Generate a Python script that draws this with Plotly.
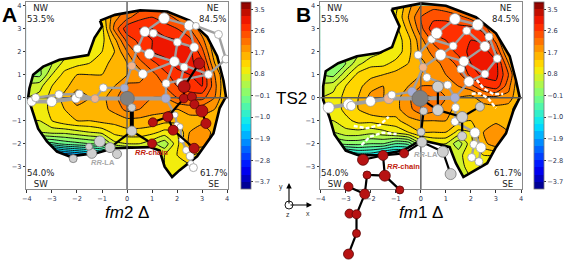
import plotly.graph_objects as go

W, H = 567, 261
GRID_X = [-4, -3.5, -3, -2.5, -2, -1.5, -1, -0.5, 0, 0.5, 1, 1.5, 2, 2.5, 3, 3.5, 4]
GRID_Y = [4, 3.5, 3, 2.5, 2, 1.5, 1, 0.5, 0, -0.5, -1, -1.5, -2, -2.5, -3, -3.5]

Z_A = [
 [.8,.8,.8,.8,.8,.8,1.2,1.8,2.0,2.1,2.1,2.0,1.8,1.5,1.2,1.0,1.0],
 [.8,.8,.8,.8,.8,.8,1.2,1.9,2.2,2.5,2.6,2.5,2.2,1.9,1.4,1.0,1.0],
 [.8,.8,.8,.8,.8,.8,1.0,2.1,2.8,2.9,2.9,2.7,2.6,2.3,1.8,1.2,1.0],
 [.8,.8,.8,.8,.8,.8,1.0,1.6,2.4,2.7,2.9,3.0,2.9,2.7,2.1,1.4,1.0],
 [.5,.5,.5,.6,.7,.8,1.1,1.4,2.0,2.5,2.9,3.0,3.1,3.0,2.4,1.5,1.0],
 [.2,.2,.5,.9,1.0,1.1,1.3,1.5,1.7,2.2,2.5,2.8,3.0,3.0,2.7,1.7,1.2],
 [.2,.1,.8,1.2,1.4,1.4,1.4,1.5,1.7,1.8,2.2,2.5,2.8,2.9,2.9,2.0,1.3],
 [.6,.7,1.1,1.3,1.6,1.6,1.5,1.7,2.1,2.1,2.0,2.3,2.6,2.8,2.9,2.1,1.3],
 [.8,.9,1.2,1.5,1.9,1.7,1.6,1.9,2.3,2.2,2.0,2.0,2.3,2.4,2.4,2.0,1.3],
 [.8,.9,1.2,1.4,1.6,1.6,1.6,1.8,2.1,2.0,1.8,1.8,1.7,1.8,1.8,1.7,1.2],
 [.8,.8,1.1,1.3,1.4,1.4,1.5,1.5,1.6,1.6,1.6,1.5,1.5,1.6,1.6,1.5,1.2],
 [.5,.5,.6,.6,.7,.8,.9,1.2,1.3,1.3,1.2,1.0,1.1,1.7,1.9,1.6,1.2],
 [-.5,-.5,-.5,-.3,-.2,-.1,0,.7,.8,.8,.6,.3,1.0,1.8,1.9,1.4,1.0],
 [-2.5,-2.5,-2.5,-2.2,-2.0,-1.8,-1.5,-1.0,-.5,0,.5,.8,1.1,1.4,1.2,1.0,1.0],
 [-2.5,-2.5,-2.5,-2.5,-2.5,-2.5,-2.0,-1.0,0,.5,.7,.8,1.0,1.0,.8,.8,.8],
 [-2.5,-2.5,-2.5,-2.5,-2.5,-2.5,-2.0,-1.0,0,.5,.7,.8,.8,.8,.8,.8,.8],
]
Z_B = [
 [.9,.9,.9,.9,.9,.9,1.0,1.6,2.0,2.2,2.1,1.9,1.6,1.3,1.1,1.0,1.0],
 [.9,.9,.9,.9,.9,.9,1.1,1.7,2.3,2.5,2.5,2.4,2.2,1.8,1.3,1.0,1.0],
 [.9,.9,.9,.9,.9,.9,1.0,1.5,2.2,2.8,2.8,2.7,2.7,2.5,1.9,1.2,1.0],
 [.8,.8,.8,.8,.8,.8,.9,1.3,1.9,2.4,2.6,2.8,2.9,2.8,2.2,1.4,1.0],
 [.3,.3,.3,.4,.6,.8,.9,1.3,1.8,2.1,2.4,2.7,3.0,3.1,2.6,1.6,1.1],
 [-.2,-.2,.2,.7,1.0,1.0,1.2,1.4,1.6,1.9,2.1,2.4,2.9,3.0,3.0,2.0,1.2],
 [.2,.1,.7,1.2,1.3,1.4,1.5,1.5,1.7,1.8,2.0,2.2,2.7,3.0,3.0,2.3,1.3],
 [.6,.7,1.1,1.3,1.6,1.7,1.5,1.7,2.0,2.0,1.9,2.0,2.2,2.6,2.8,2.1,1.3],
 [.8,.9,1.2,1.4,1.8,1.7,1.6,1.9,2.4,2.3,2.0,1.7,1.6,1.9,1.9,1.9,1.3],
 [.9,.9,1.2,1.4,1.6,1.6,1.6,1.9,2.2,2.1,1.8,1.6,1.5,1.5,1.6,1.5,1.2],
 [.8,.8,1.0,1.2,1.2,1.3,1.3,1.6,1.7,1.7,1.7,1.5,1.4,1.5,1.6,1.5,1.2],
 [.5,.5,.7,.7,.6,.7,.9,1.1,1.4,1.4,1.4,1.0,1.1,1.7,2.0,1.7,1.2],
 [-.1,-.1,0,0,-.1,-.1,-.4,-.3,.5,.8,.8,.3,1.0,1.6,1.9,1.4,1.0],
 [-1.5,-1.5,-1.5,-1.2,-1.2,-1.5,-1.6,-1.5,0,.3,.5,.7,1.0,1.1,1.1,1.0,1.0],
 [-1.5,-1.5,-1.5,-1.5,-1.5,-1.5,-1.6,-1.5,0,.3,.5,.7,.9,1.0,.9,.8,.8],
 [-1.5,-1.5,-1.5,-1.5,-1.5,-1.5,-1.6,-1.5,0,.3,.5,.7,.8,.8,.8,.8,.8],
]

BOUND_A = [(-1.08,3.35),(-.48,3.6),(.52,3.8),(1.6,3.75),(2.5,3.35),(3.2,2.65),(3.6,1.8),(3.85,.75),(3.95,.05),
 (3.7,-.45),(3.45,-1.55),(3.05,-2.15),(2.8,-2.55),(2.1,-3.15),(1.8,-3.45),(1.5,-3.0),(1.3,-2.3),(.9,-2.15),
 (0,-2.2),(-.55,-2.2),(-1.2,-2.4),(-2.3,-2.55),(-2.8,-2.35),(-3.2,-1.9),(-3.55,-1.35),(-3.75,-.7),(-3.95,0),
 (-3.9,.4),(-3.75,1.0),(-3.35,1.35),(-2.7,1.65),(-1.55,1.85),(-1.3,2.6),(-1,3.1),(-1.08,3.35)]
BOUND_B = [(-1.17,3.85),(0,4.1),(1,4.0),(2.2,3.5),(3,2.8),(3.55,1.8),(3.8,.75),(3.95,0),(3.7,-.55),(3.4,-1.55),
 (3,-2.15),(2.65,-2.85),(1.7,-3.45),(1.4,-2.85),(1.15,-2.15),(.65,-2),(0,-1.85),(-.7,-2.3),(-1.75,-2.5),
 (-2.5,-2.5),(-3,-2.3),(-3.45,-1.6),(-3.65,-.85),(-3.9,-.1),(-3.9,.5),(-3.8,1.15),(-3.3,1.5),(-2.55,1.8),
 (-1.65,1.95),(-1.15,2.2),(-.85,3.1),(-1.17,3.85)]

# atoms: name -> (x, y); first letter gives the element colour group
A_XY = dict(L1=(-3.81,-.17),L2=(-3.65,0),L3=(-3.01,-.17),L4=(-2.72,.14),L5=(-2.04,-.03),L6=(-1.91,.16),O1=(-1.28,-.04),
 L7=(-.95,.43),B1=(-.11,.42),Z=(.01,-.03),B2=(1.55,-.03),O2=(.19,1.38),W1=(.63,1.03),W2=(.41,2.13),W3=(.89,1.9),
 W4=(.71,2.87),W5=(1.05,2.8),W6=(1.48,3.45),W7=(2.48,3.14),W8=(2.75,3.12),W9=(3.65,2.75),W10=(3.95,1.68),W11=(3.25,1.01),
 W12=(2.68,2.19),W13=(2.01,2.41),W14=(1.89,1.57),W15=(2.28,1.33),W16=(1.56,.62),W17=(2.12,.67),W18=(1.92,-.75),
 W19=(1.99,-1.19),W20=(2.12,-1.26),W21=(2.19,-1.84),W22=(2.36,-2.28),W23=(2.52,-2.54),W24=(2.55,-2.86),W25=(2.65,-3.04),
 G1=(.19,-.43),G2=(.19,-1.45),G3=(-1.09,-1.9),G4=(-.68,-2.17),G5=(-1.41,-2.42),G6=(-1.52,-2.13),G7=(-.4,-2.45),G8=(-2.15,-2.65),
 R1=(2.88,1.49),R2=(2.28,.48),R3=(2.27,-.03),R4=(2.59,.04),R5=(2.69,-.29),R6=(2.99,-.58),R7=(3.15,-1.12),R8=(1.63,-.83),
 R9=(1.03,-1.07),R10=(1.84,-1.41),R11=(2.68,-2.2),R12=(1,-1.99))
A_SIZE = dict(L1=9,L2=8,L3=10,L4=8,L5=9,L6=8,O1=8,L7=8,B1=8,Z=14,B2=9,O2=8,W1=9,W2=8,W3=10,W4=10,W5=8,W6=11,W7=10,W8=7,W9=8,W10=8,
 W11=8,W12=9,W13=8,W14=10,W15=8,W16=8,W17=8,W18=6,W19=6,W20=6,W21=6,W22=7,W23=8,W24=6,W25=8,G1=8,G2=10,G3=11,G4=10,G5=10,G6=7,G7=9,G8=8,
 R1=11,R2=12,R3=9,R4=9,R5=9,R6=12,R7=10,R8=10,R9=9,R10=10,R11=10,R12=9)
A_THICK_GREY = [("L1","L3"),("L3","L5"),("L5","O1"),("O1","Z"),("Z","B2")]
A_GREY = [("L2","L4"),("L4","L6"),("L6","O1"),("O1","L7"),("L7","B1"),("B1","Z"),("B1","O2"),("O2","W2"),("O2","W1"),("W2","W3"),
 ("W2","W4"),("W4","W6"),("W6","W7"),("W7","W8"),("W8","W9"),("W9","W10"),("W10","W11"),("W11","W14"),("W4","W5"),("W5","W13"),
 ("W3","W14"),("W14","W13"),("W13","W7"),("W13","W12"),("W12","W7"),("W12","W15"),("W15","W14"),("W1","W14"),("W16","W14"),
 ("W15","W17"),("B2","W16"),("B2","W18"),("W18","W19"),("W19","W20"),("W20","W21"),("W21","W22"),("W22","W23"),("W23","W24"),("W24","W25"),("W11","W16")]
A_BLACK = [("R1","R2"),("R2","R3"),("R3","R8"),("R4","R5"),("R5","R6"),("R6","R7"),("R8","R9"),("R8","R10"),("R10","R11"),
 ("G2","R12"),("G2","G4"),("G3","G4"),("G4","G7"),("G5","G6"),("R3","R4")]
A_THICK_BLACK = [("G1","G2")]

B_XY = dict(L1=(-3.68,-.43),L2=(-2.88,-.29),L3=(-2.78,-.36),L4=(-2.01,-.16),O1=(-1.28,-.04),L5=(-1.16,.12),B1=(-.35,.26),Z=(-.03,-.03),
 B2=(1.36,0),W1=(1.07,.55),W2=(1.92,.7),W3=(.24,.88),O2=(.09,1.32),W4=(-.11,1.86),W5=(.79,1.86),W6=(1.6,1.25),W7=(1.72,1.58),
 W8=(2.56,1.03),W9=(3.05,1.7),W10=(2.56,2.23),W11=(1.29,2.25),W12=(.43,2.54),W13=(.63,2.8),W14=(1.36,3.42),W15=(1.83,2.91),
 W16=(2.27,3.17),W17=(2.72,2.65),W18=(1.39,-.43),W19=(1.36,-1.04),W20=(2.16,-1.52),W21=(2.12,-2.03),W22=(2.4,-2.17),W23=(2.03,-2.6),W24=(2.32,-2.78),
 G1=(.11,-.58),G2=(.01,-1.49),G3=(.04,-1.93),G4=(.68,.48),G5=(.68,-.54),G6=(2.36,-.39),G7=(1.65,-.84),G8=(1.65,-1.67),G9=(.88,-2.35),G10=(1.19,-3.32),
 R1=(-.67,-2.42),R2=(-1.51,-2.51),R3=(-2.31,-2.7),R4=(-2.15,-3.36),R5=(-1.44,-3.39),R6=(-.84,-4.01),R7=(-2.24,-4.19),R8=(-2.89,-3.87),
 R9=(-2.85,-5.04),R10=(-2.57,-5.07),R11=(-2.57,-5.9),R12=(-2.89,-6.8))
B_SIZE = dict(L1=11,L2=11,L3=9,L4=10,O1=10,L5=8,B1=9,Z=16,B2=9,W1=8,W2=10,W3=8,O2=8,W4=8,W5=11,W6=8,W7=10,W8=8,W9=8,W10=10,W11=8,W12=8,W13=11,
 W14=11,W15=8,W16=11,W17=8,W18=8,W19=8,W20=10,W21=8,W22=10,W23=8,W24=8,G1=8,G2=8,G3=10,G4=11,G5=11,G6=9,G7=11,G8=9,G9=11,G10=11,
 R1=9,R2=10,R3=11,R4=8,R5=11,R6=8,R7=10,R8=9,R9=9,R10=9,R11=8,R12=10)
B_THICK_GREY = [("L1","L2"),("L2","L4"),("L4","O1"),("O1","Z"),("Z","B2")]
B_GREY = [("O1","L5"),("L5","B1"),("B1","Z"),("B1","O2"),("O2","W4"),("O2","W3"),("W3","W1"),("O2","W5"),("W4","W12"),("W12","W13"),
 ("W13","W14"),("W14","W16"),("W16","W17"),("W17","W9"),("W9","W8"),("W8","W7"),("W7","W5"),("W7","W10"),("W10","W17"),("W10","W15"),
 ("W15","W16"),("W15","W11"),("W11","W12"),("W11","W5"),("W6","W7"),("W6","W2"),("W2","W8"),("W1","B2"),("B2","W2"),("B2","W18"),
 ("W18","W19"),("W19","W20"),("W20","W21"),("W21","W23"),("W23","W24"),("W24","W22"),("W22","W20")]
B_BLACK = [("G4","G5"),("Z","G5"),("G5","G7"),("G7","G6"),("G7","G8"),("G1","G2"),("G3","R1"),("G9","G10"),("G3","G9"),
 ("R1","R2"),("R2","R3"),("R2","R5"),("R4","R5"),("R5","R6"),("R4","R7"),("R7","R8"),("R7","R10"),("R9","R10"),("R10","R11"),("R11","R12")]
B_THICK_BLACK = [("G2","G3")]
B_DASH_1 = [(2.03,.17),(2.36,.19),(2.69,-.03),(3,-.46)]
B_DASH_2 = [(2.23,.77),(2.5,.41),(2.89,.16),(3.29,.16)]
B_DASH_3 = [(-2.68,-1.23),(-2.17,-1.33),(-1.64,-1.19),(-1.28,-.83)]
B_DASH_4 = [(-2.37,-2.06),(-2.04,-1.70),(-1.51,-1.52),(-.97,-1.58)]

CB_TICKS = [3.5, 2.6, 1.7, 0.8, -0.1, -1.0, -1.9, -2.8, -3.7]
CORNERS = [("NW<br>53.5%", -3.45, 3.65), ("NE<br>84.5%", 3.4, 3.65), ("54.0%<br>SW", -3.45, -3.5), ("61.7%<br>SE", 3.45, -3.5)]
TICKS_X = [-4,-3,-2,-1,0,1,2,3,4]
TICKS_Y = [-3,-2,-1,0,1,2,3,4]
JET = [[0,"#00007f"],[.11,"#0000ff"],[.34,"#00e5ff"],[.5,"#7dff7a"],[.65,"#ffea00"],[.75,"#ff9400"],[.89,"#ff1a00"],[1,"#7f0000"]]
ATOM_COLOR = dict(L="#ffffff", W="#ffffff", O="#f2b48c", B="#a6aed6", Z="#808080", G="#cfcfcf", R="#b71212")
ATOM_EDGE = dict(L="#9a9a9a", W="#9a9a9a", O="#9a9a9a", B="#9a9a9a", Z="#6a6a6a", G="#777777", R="#5a0505")
XR, YR = [-4.02, 4.04], [-3.97, 4.16]

fig = go.Figure()

def bonds(xy, pairs, color, width, ax):
    xs, ys = [], []
    for a, b in pairs:
        xs += [xy[a][0], xy[b][0], None]
        ys += [xy[a][1], xy[b][1], None]
    fig.add_trace(go.Scatter(x=xs, y=ys, mode="lines", line=dict(color=color, width=width), xaxis="x"+ax, yaxis="y"+ax,
                             hoverinfo="skip", showlegend=False))

def atoms(xy, sizes, names, ax):
    names = list(names)
    fig.add_trace(go.Scatter(x=[xy[n][0] for n in names], y=[xy[n][1] for n in names], mode="markers",
        marker=dict(size=[sizes[n] for n in names], color=[ATOM_COLOR[n[0]] for n in names], opacity=1,
                    line=dict(color=[ATOM_EDGE[n[0]] for n in names], width=0.8)),
        xaxis="x"+ax, yaxis="y"+ax, hoverinfo="skip", showlegend=False))

def panel(z, bound, ax, top, cbx, xy, size, thick_g, grey, black, thick_b):
    fig.add_trace(go.Contour(x=GRID_X, y=GRID_Y, z=z, zmin=-4, zmax=3.8, colorscale=JET, autocontour=False,
        contours=dict(start=-4, end=3.8, size=0.3, coloring="fill", showlines=False), line=dict(width=0, smoothing=0.5),
        xaxis="x"+ax, yaxis="y"+ax, hoverinfo="skip",
        colorbar=dict(x=cbx/W, xanchor="left", xpad=0, ypad=0, y=1-2/H, yanchor="top", len=187, lenmode="pixels",
                      thickness=10, thicknessmode="pixels", tickvals=CB_TICKS, tickformat=".1f", ticks="outside", ticklen=2, tickwidth=0.7,
                      tickcolor="#333", tickfont=dict(size=6.6, color="#2c3350", family="DejaVu Sans"),
                      outlinecolor="#777", outlinewidth=0.8)))
    fig.add_trace(go.Contour(x=GRID_X, y=GRID_Y, z=z, autocontour=False, showscale=False,
        contours=dict(start=-3.7, end=3.8, size=0.3, coloring="none", showlines=True),
        line=dict(color="#111", width=1.0, smoothing=0.5), xaxis="x"+ax, yaxis="y"+ax, hoverinfo="skip"))
    bx = [p[0] for p in bound]; by = [p[1] for p in bound]
    rx = [XR[0], XR[1], XR[1], XR[0], XR[0], None]; ry = [YR[0], YR[0], YR[1], YR[1], YR[0], None]
    fig.add_trace(go.Scatter(x=rx+bx, y=ry+by, mode="lines", fill="toself", fillcolor="white", line=dict(width=0),
                             xaxis="x"+ax, yaxis="y"+ax, hoverinfo="skip", showlegend=False))
    fig.add_trace(go.Scatter(x=bx, y=by, mode="lines", line=dict(color="black", width=2.6), xaxis="x"+ax, yaxis="y"+ax,
                             hoverinfo="skip", showlegend=False))
    fig.add_trace(go.Scatter(x=[XR[0], XR[1], None, 0, 0], y=[0, 0, None, YR[0], YR[1]], mode="lines",
                             line=dict(color="#5a5a5a", width=1.4), xaxis="x"+ax, yaxis="y"+ax, hoverinfo="skip", showlegend=False))
    bonds(xy, thick_g, "#a0a0a0", 4, ax)
    bonds(xy, grey, "#a0a0a0", 2.4, ax)
    atoms(xy, size, [n for n in xy if n[0] in "LWOB"], ax)
    bonds(xy, thick_b, "black", 4, top)
    bonds(xy, black, "black", 2.2, top)
    atoms(xy, size, [n for n in xy if n[0] in "ZG"], top)
    atoms(xy, size, [n for n in xy if n[0] == "R"], top)

panel(Z_A, BOUND_A, "", "", 240.5, A_XY, A_SIZE, A_THICK_GREY, A_GREY, A_BLACK, A_THICK_BLACK)
panel(Z_B, BOUND_B, "2", "3", 534, B_XY, B_SIZE, B_THICK_GREY, B_GREY, B_BLACK, B_THICK_BLACK)

for d in (B_DASH_1, B_DASH_2, B_DASH_3, B_DASH_4):
    fig.add_trace(go.Scatter(x=[p[0] for p in d], y=[p[1] for p in d], mode="lines", xaxis="x2", yaxis="y2",
                             line=dict(color="white", width=2.4, dash="4px,2px"), hoverinfo="skip", showlegend=False))

def axis(domain, anchor):
    return dict(domain=domain, anchor=anchor, showgrid=False, zeroline=False, showline=True, mirror=True, linecolor="#8a8a8a",
                linewidth=1.4, ticks="outside", ticklen=2.5, tickwidth=0.7, tickcolor="#333", automargin=False,
                tickfont=dict(size=6.6, color="#2c3350", family="DejaVu Sans"))

ydom = [1-189/H, 1-2/H]
xdom_b = [320.2/W, 522/W]
px_per_y = (189-2)/(YR[1]-YR[0])   # overlay y axis keeps the same scale but spans the whole figure, so the chain can leave the frame
fig.update_layout(width=W, height=H, margin=dict(l=0, r=0, t=0, b=0, autoexpand=False), showlegend=False,
    paper_bgcolor="white", plot_bgcolor="rgba(0,0,0,0)",
    xaxis=dict(axis([26.4/W, 228.2/W], "y"), range=XR, tickvals=TICKS_X),
    yaxis=dict(axis(ydom, "x"), range=YR, tickvals=TICKS_Y),
    xaxis2=dict(axis(xdom_b, "y2"), range=XR, tickvals=TICKS_X),
    yaxis2=dict(axis(ydom, "x2"), range=YR, tickvals=TICKS_Y),
    xaxis3=dict(domain=xdom_b, range=XR, visible=False, anchor="y3"),
    yaxis3=dict(domain=[0, 1], range=[YR[1]+2/px_per_y-H/px_per_y, YR[1]+2/px_per_y], visible=False, anchor="x3"))

notes = []
for ax in ("", "2"):
    for txt, x, y in CORNERS:
        notes.append(dict(text=txt, x=x, y=y, xref="x"+ax, yref="y"+ax, showarrow=False,
                          font=dict(size=8.6, color="#222", family="DejaVu Sans"), align="center"))
def lab(txt, x, y, xr, yr, size, color="black", fam="Liberation Sans"):
    notes.append(dict(text=txt, x=x, y=y, xref=xr, yref=yr, showarrow=False, xanchor="center", yanchor="middle",
                      font=dict(size=size, color=color, family=fam)))
lab("<b><i>RR</i>-LA</b>", -.95, -2.83, "x", "y", 7.5, "#a8a8a8")
lab("<b><i>RR</i>-chain</b>", .99, -2.39, "x", "y", 7.5, "#c0200c")
lab("<b><i>RR</i>-LA</b>", .19, -2.45, "x3", "y3", 7.5, "#a8a8a8")
lab("<b><i>RR</i>-chain</b>", -.71, -2.97, "x3", "y3", 7.5, "#c0200c")
lab("<b>A</b>", 9/W, 1-14/H, "paper", "paper", 21)
lab("<b>B</b>", 303/W, 1-14/H, "paper", "paper", 21)
lab("TS2", 291/W, 1-98/H, "paper", "paper", 17)
lab("<i>fm</i>2 Δ", 127/W, 1-212/H, "paper", "paper", 17)
lab("<i>fm</i>1 Δ", 421/W, 1-212/H, "paper", "paper", 17)
lab("y", 281/W, 1-187/H, "paper", "paper", 7, "#333")
lab("x", 308/W, 1-213/H, "paper", "paper", 7, "#333")
lab("z", 288/W, 1-214/H, "paper", "paper", 7, "#333")
arrows = [(289, 205, 289, 183), (289, 205, 312, 205)]
for x0, y0, x1, y1 in arrows:
    notes.append(dict(x=x1/W, y=1-y1/H, ax=x0-x1, ay=y0-y1, xref="paper", yref="paper", axref="pixel", ayref="pixel",
                      text="", showarrow=True, arrowhead=2, arrowsize=1, arrowwidth=1.1, arrowcolor="black"))
fig.update_layout(annotations=notes,
    shapes=[dict(type="circle", xref="paper", yref="paper", x0=285/W, x1=293/W, y0=1-209/H, y1=1-201/H, line=dict(color="black", width=0.9))])
fig.write_html("out.html", config=dict(displayModeBar=False), post_script="document.body.style.margin='0';")
